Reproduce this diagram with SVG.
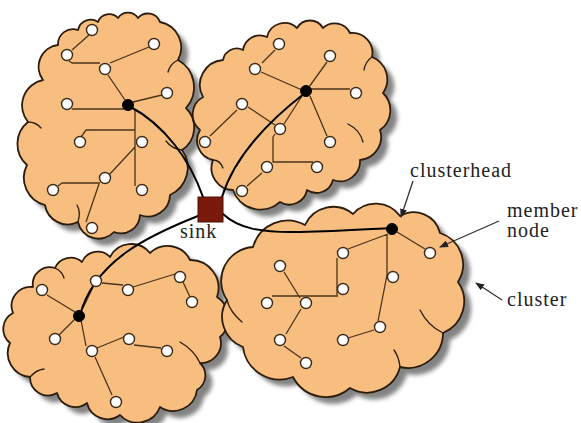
<svg xmlns="http://www.w3.org/2000/svg" width="581" height="423" viewBox="0 0 581 423">
<defs>
<style>
.cloud{fill:#F8BE80;stroke:#2b1c0c;stroke-width:1.8;stroke-linejoin:round}
.shadow{fill:#6e6e6e;opacity:0.85}
.crease{fill:none;stroke:#2b1c0c;stroke-width:1.3;stroke-linecap:round}
.edge{fill:none;stroke:#4b3418;stroke-width:1.3;stroke-linejoin:round}
.link{fill:none;stroke:#000;stroke-width:2;stroke-linecap:round}
.ptr{fill:none;stroke:#333;stroke-width:1.3}
.node{fill:#fff;stroke:#3b2a18;stroke-width:1.4}
.head{fill:#000;stroke:#000;stroke-width:1}
.lbl{font-family:"Liberation Serif","Times New Roman",serif;font-size:20px;letter-spacing:1px;fill:#222}
</style>
<filter id="blur" x="-10%" y="-10%" width="120%" height="120%"><feGaussianBlur stdDeviation="2.2"/></filter>
<marker id="arr" markerWidth="9" markerHeight="7" refX="8" refY="3.5" orient="auto" markerUnits="userSpaceOnUse"><path d="M0,0 L9,3.5 L0,7 z" fill="#222"/></marker>
<path id="cloudA" d="M43,80 A22 22 0 0 1 58,45 A15 15 0 0 1 78,30 A13 13 0 0 1 98,22 A12 12 0 0 1 118,18 A12 12 0 0 1 138,18 A13 13 0 0 1 160,22 A26 26 0 0 1 178,60 A31 31 0 0 1 186,108 A27 27 0 0 1 182,150 A30 30 0 0 1 170,195 A22 22 0 0 1 140,215 A19 19 0 0 1 114,232 A21 21 0 0 1 78,222 A23 23 0 0 1 45,205 A28 28 0 0 1 27,165 A28 28 0 0 1 28,122 A26 26 0 0 1 43,80 Z"/>
<path id="cloudB" d="M203,97 A25 25 0 0 1 223,60 A14 14 0 0 1 243,50 A17 17 0 0 1 267,37 A18 18 0 0 1 297,28 A15 15 0 0 1 323,28 A17 17 0 0 1 350,33 A20 20 0 0 1 372,57 A24 24 0 0 1 383,93 A24 24 0 0 1 380,130 A23 23 0 0 1 360,160 A20 20 0 0 1 333,180 A17 17 0 0 1 307,190 A18 18 0 0 1 280,202 A29 29 0 0 1 233,190 A22 22 0 0 1 213,160 A20 20 0 0 1 200,130 A20 20 0 0 1 203,97 Z"/>
<path id="cloudC" d="M33,287 A17 17 0 0 1 55,268 A17 17 0 0 1 82,262 A17 17 0 0 1 110,257 A24 24 0 0 1 150,253 A25 25 0 0 1 190,260 A28 28 0 0 1 217,297 A25 25 0 0 1 220,337 A20 20 0 0 1 200,363 A17 17 0 0 1 197,390 A24 24 0 0 1 160,407 A24 24 0 0 1 120,415 A21 21 0 0 1 87,403 A19 19 0 0 1 57,393 A18 18 0 0 1 30,377 A24 24 0 0 1 10,343 A18 18 0 0 1 13,313 A19 19 0 0 1 33,287 Z"/>
<path id="cloudD" d="M253,247 A36 36 0 0 1 305,225 A31 31 0 0 1 353,214 A30 30 0 0 1 400,216 A27 27 0 0 1 440,233 A33 33 0 0 1 458,282 A34 34 0 0 1 443,333 A35 35 0 0 1 400,367 A34 34 0 0 1 350,388 A37 37 0 0 1 293,377 A37 37 0 0 1 243,347 A32 32 0 0 1 227,300 A34 34 0 0 1 253,247 Z"/>
</defs>
<rect width="581" height="423" fill="#fff"/>

<g id="clouds">
<g id="cluster-a-cloud">
<use href="#cloudA" class="shadow" transform="translate(7,7)" filter="url(#blur)"/>
<use href="#cloudA" class="cloud"/>
<path class="crease" d="M182,150 Q172,149 166,141 M78,222 Q81,212 77,205 M28,122 Q36,122 41,128 M178,60 Q170,64 168,72"/>
</g>
<g id="cluster-b-cloud">
<use href="#cloudB" class="shadow" transform="translate(7,7)" filter="url(#blur)"/>
<use href="#cloudB" class="cloud"/>
<path class="crease" d="M363,142 Q360,130 348,124 M213,160 Q220,160 223,168 M372,57 Q365,62 364,70"/>
</g>
<g id="cluster-c-cloud">
<use href="#cloudC" class="shadow" transform="translate(7,7)" filter="url(#blur)"/>
<use href="#cloudC" class="cloud"/>
<path class="crease" d="M200,363 Q194,350 180,342 M30,377 Q36,370 44,369 M55,268 Q62,271 64,278"/>
</g>
<g id="cluster-d-cloud">
<use href="#cloudD" class="shadow" transform="translate(7,7)" filter="url(#blur)"/>
<use href="#cloudD" class="cloud"/>
<path class="crease" d="M227,300 Q230,312 242,322 M443,333 Q428,326 420,310 M400,367 Q399,357 394,350"/>
</g>
</g>

<g id="connectors">
<path class="edge" d="M89,35 L72,50 M69,61 L72,63 L100,63 M110,63 L149,47 M108,75 L125,100 M133,102 L162,95 M72,109 L127,109 M135,109 L135,186 M81,137 L86,130 L135,130 M135,147 L109,175 M58,186 L62,183 L100,183 M99,184 L86,222"/>
<path class="edge" d="M275,50 L262,63 M261,72 L302,90 M327,62 L309,87 M311,89 L350,89 M237,110 L210,136 M248,107 L275,125 M302,96 L284,124 M310,96 L327,136 M275,134 L273,137 L273,162 L313,162 M262,173 L247,186"/>
<path class="edge" d="M47,295 L75,312 M93,287 L82,310 M102,283 L123,285 M133,287 L175,274 M183,282 L190,297 M75,319 L59,335 M81,320 L86,346 M97,348 L124,337 M134,345 L161,348 M95,357 L112,395"/>
<path class="edge" d="M397,232 L425,249 M388,234 L348,249 M387,234 L387,275 L378,321 M374,330 L348,338 M337,258 L337,295 M272,296 L338,296 M284,272 L300,298 M301,309 L286,334 M284,346 L301,358"/>
<path class="link" d="M129,106 C165,125 190,160 203,197"/>
<path class="link" d="M305,93 C270,120 235,155 222,197"/>
<path class="link" d="M198,216 C150,235 95,260 80,315"/>
<path class="link" d="M223,214 C238,228 260,233 300,232 S370,229 392,228"/>
<path class="ptr" d="M413,181 L401,217" marker-end="url(#arr)"/>
<path class="ptr" d="M499,221 L440,247" marker-end="url(#arr)"/>
<path class="ptr" d="M502,300 L476,283" marker-end="url(#arr)"/>
</g>

<g id="cluster-a-nodes">
<circle id="a1" class="node" cx="92" cy="30" r="5.5"/>
<circle id="a2" class="node" cx="67" cy="55" r="5.5"/>
<circle id="a3" class="node" cx="154" cy="44" r="5.5"/>
<circle id="a4" class="node" cx="105" cy="69" r="5.5"/>
<circle id="a5" class="node" cx="167" cy="93" r="5.5"/>
<circle id="a6" class="node" cx="67" cy="104" r="5.5"/>
<circle id="a7" class="node" cx="80" cy="142" r="5.5"/>
<circle id="a8" class="node" cx="142" cy="142" r="5.5"/>
<circle id="a9" class="node" cx="105" cy="178" r="5.5"/>
<circle id="a10" class="node" cx="53" cy="190" r="5.5"/>
<circle id="a11" class="node" cx="142" cy="190" r="5.5"/>
<circle id="a12" class="node" cx="92" cy="228" r="5.5"/>
<circle id="a-head" class="head" cx="128" cy="105" r="5.5"/>
</g>
<g id="cluster-b-nodes">
<circle id="b1" class="node" cx="279" cy="44" r="5.5"/>
<circle id="b2" class="node" cx="255" cy="69" r="5.5"/>
<circle id="b3" class="node" cx="330" cy="56" r="5.5"/>
<circle id="b4" class="node" cx="356" cy="93" r="5.5"/>
<circle id="b5" class="node" cx="242" cy="104" r="5.5"/>
<circle id="b6" class="node" cx="280" cy="129" r="5.5"/>
<circle id="b7" class="node" cx="205" cy="142" r="5.5"/>
<circle id="b8" class="node" cx="330" cy="142" r="5.5"/>
<circle id="b9" class="node" cx="267" cy="167" r="5.5"/>
<circle id="b10" class="node" cx="317" cy="167" r="5.5"/>
<circle id="b11" class="node" cx="242" cy="191" r="5.5"/>
<circle id="b-head" class="head" cx="306" cy="91" r="5.5"/>
</g>
<g id="cluster-c-nodes">
<circle id="c1" class="node" cx="42" cy="290" r="5.5"/>
<circle id="c2" class="node" cx="96" cy="281" r="5.5"/>
<circle id="c3" class="node" cx="128" cy="290" r="5.5"/>
<circle id="c4" class="node" cx="180" cy="277" r="5.5"/>
<circle id="c5" class="node" cx="192" cy="302" r="5.5"/>
<circle id="c6" class="node" cx="55" cy="339" r="5.5"/>
<circle id="c7" class="node" cx="129" cy="339" r="5.5"/>
<circle id="c8" class="node" cx="92" cy="351" r="5.5"/>
<circle id="c9" class="node" cx="167" cy="351" r="5.5"/>
<circle id="c10" class="node" cx="116" cy="402" r="5.5"/>
<circle id="c-head" class="head" cx="79" cy="316" r="5.5"/>
</g>
<g id="cluster-d-nodes">
<circle id="d1" class="node" cx="430" cy="253" r="5.5"/>
<circle id="d2" class="node" cx="343" cy="253" r="5.5"/>
<circle id="d3" class="node" cx="280" cy="266" r="5.5"/>
<circle id="d4" class="node" cx="393" cy="277" r="5.5"/>
<circle id="d5" class="node" cx="343" cy="289" r="5.5"/>
<circle id="d6" class="node" cx="267" cy="303" r="5.5"/>
<circle id="d7" class="node" cx="306" cy="303" r="5.5"/>
<circle id="d8" class="node" cx="380" cy="327" r="5.5"/>
<circle id="d9" class="node" cx="280" cy="340" r="5.5"/>
<circle id="d10" class="node" cx="343" cy="340" r="5.5"/>
<circle id="d11" class="node" cx="306" cy="363" r="5.5"/>
<circle id="d-head" class="head" cx="392" cy="229" r="5.5"/>
</g>

<g id="sink">
<rect x="198" y="197" width="25" height="25" fill="#7a1a0c" stroke="#4a0e06" stroke-width="1"/>
<text class="lbl" x="180" y="238">sink</text>
</g>
<g id="labels">
<text class="lbl" x="410" y="177">clusterhead</text>
<text class="lbl" x="507" y="217">member</text>
<text class="lbl" x="507" y="237">node</text>
<text class="lbl" x="507" y="306">cluster</text>
</g>
</svg>
